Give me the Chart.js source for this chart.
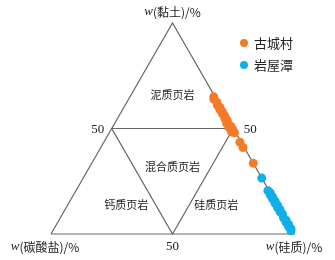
<!DOCTYPE html>
<html>
<head>
<meta charset="utf-8">
<script src="https://cdn.jsdelivr.net/npm/chart.js@4/dist/chart.umd.min.js"></script>
<style>
  html, body { margin: 0; padding: 0; background: #fff; }
  #wrap { width: 335px; height: 260px; }
</style>
</head>
<body>
<div id="wrap"><canvas id="chartTernary" width="335" height="260"></canvas></div>
<script>
// 三元图数据 (%)：黏土、碳酸盐，硅质 = 100 - 黏土 - 碳酸盐
const seriesNames = ['古城村', '岩屋潭'];
const seriesColors = ['#f47b2a', '#12aee8'];

const gucClay = [65, 64, 62.5, 61, 60, 59, 58, 57, 56, 55, 54, 53, 52.5, 51.5, 51, 50.5, 50, 49.5, 49, 48.5, 48, 43.5, 41, 33.5];
const gucCarb = [0.5, 1, 0.5, 1, 0.5, 1, 0.5, 1, 0.5, 1, 0.5, 1, 1.5, 1, 0.5, 1.5, 1, 0.5, 1, 1.5, 0.5, 0.5, 0.5, 0];

const ywtClay = [26.5, 20.5, 19.5, 18.5, 17.5, 16.5, 15.5, 14.5, 13.5, 12.5, 11.5, 10.5, 9.5, 7.5, 6.5, 5.5, 4.5, 3.5, 2.5, 1.5];
const ywtCarb = [0, 0.5, 0, 0.5, 0, 0.5, 0, 0.5, 0, 0.5, 0, 0.5, 0, 0.5, 0, 0.5, 0, 0.5, 0, 0.5];

const tickLabel = '50';
const axisNames = ['w(黏土)/%', 'w(碳酸盐)/%', 'w(硅质)/%'];
const zoneNames = ['泥质页岩', '混合质页岩', '钙质页岩', '硅质页岩'];

const H = Math.sqrt(3) / 2;
// 黏土在顶点，碳酸盐在左下，硅质在右下
function toXY(clay, carb) {
    const c = clay / 100, k = carb / 100, s = 1 - c - k;
    return { x: s + c / 2, y: c * H };
}
const mkPts = (clay, carb) => clay.map((v, i) => toXY(v, carb[i]));

const outline = [toXY(0, 100), toXY(0, 0), toXY(100, 0), toXY(0, 100)];
const inner = [toXY(50, 0), toXY(50, 50), toXY(0, 50), toXY(50, 0)];

const lineStyle = { type: 'line', borderColor: '#666', borderWidth: 1.2, pointRadius: 0, fill: false, tension: 0, clip: false, order: 5 };

const ternaryText = {
    id: 'ternaryText',
    afterDraw(chart) {
        const ctx = chart.ctx, xs = chart.scales.x, ys = chart.scales.y;
        const P = (p) => ({ x: xs.getPixelForValue(p.x), y: ys.getPixelForValue(p.y) });
        ctx.save();
        ctx.fillStyle = '#222';
        ctx.textAlign = 'center';
        ctx.textBaseline = 'middle';

        // 轴标题：w 斜体 + 其余
        function axisText(str, px, py) {
            const rest = str.slice(1);
            ctx.font = 'italic 13px "Liberation Serif"';
            const w1 = ctx.measureText('w').width;
            ctx.font = '12px "Noto Sans CJK SC"';
            const w2 = ctx.measureText(rest).width;
            let x0 = px - (w1 + w2) / 2;
            ctx.textAlign = 'left';
            ctx.font = 'italic 13px "Liberation Serif"';
            ctx.fillText('w', x0, py);
            ctx.font = '12px "Noto Sans CJK SC"';
            ctx.fillText(rest, x0 + w1, py);
            ctx.textAlign = 'center';
        }
        const apex = P(toXY(100, 0)), bl = P(toXY(0, 100)), br = P(toXY(0, 0));
        axisText(axisNames[0], apex.x, apex.y - 11);
        axisText(axisNames[1], bl.x - 6, bl.y + 13);
        axisText(axisNames[2], br.x, br.y + 13);

        ctx.font = '13px "Liberation Serif"';
        const ml = P(toXY(50, 50)), mr = P(toXY(50, 0)), mb = P(toXY(0, 50));
        ctx.fillText(tickLabel, ml.x - 14, ml.y + 1);
        ctx.fillText(tickLabel, mr.x + 17, mr.y + 1);
        ctx.fillText(tickLabel, mb.x, mb.y + 13);

        ctx.font = '11px "Noto Sans CJK SC"';
        const zp = [P(toXY(66, 17)), P(toXY(32, 34)), P(toXY(14, 62)), P(toXY(14, 25))];
        zoneNames.forEach((t, i) => ctx.fillText(t, zp[i].x, zp[i].y));

        // 图例
        ctx.font = '13px "Noto Sans CJK SC"';
        ctx.textAlign = 'left';
        seriesNames.forEach((n, i) => {
            const ly = 43 + i * 22;
            ctx.fillStyle = seriesColors[i];
            ctx.beginPath();
            ctx.arc(244, ly, 4, 0, Math.PI * 2);
            ctx.fill();
            ctx.fillStyle = '#222';
            ctx.fillText(n, 254, ly);
        });
        ctx.restore();
    }
};

new Chart(document.getElementById('chartTernary').getContext('2d'), {
    type: 'scatter',
    data: {
        datasets: [
            { label: seriesNames[0], data: mkPts(gucClay, gucCarb), backgroundColor: seriesColors[0], borderWidth: 0, pointRadius: 4.5, clip: false, order: 1 },
            { label: seriesNames[1], data: mkPts(ywtClay, ywtCarb), backgroundColor: seriesColors[1], borderWidth: 0, pointRadius: 4.5, clip: false, order: 1 },
            Object.assign({ data: outline }, lineStyle),
            Object.assign({ data: inner }, lineStyle)
        ]
    },
    options: {
        responsive: false,
        animation: false,
        layout: { padding: { left: 51, right: 41, top: 23, bottom: 26 } },
        scales: {
            x: { type: 'linear', min: 0, max: 1, display: false },
            y: { type: 'linear', min: 0, max: H, display: false }
        },
        plugins: { legend: { display: false }, tooltip: { enabled: false } }
    },
    plugins: [ternaryText]
});
</script>
</body>
</html>
